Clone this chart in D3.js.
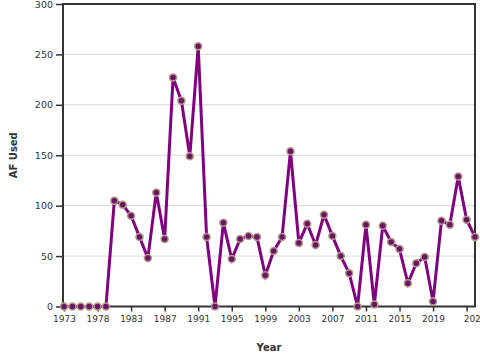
<!DOCTYPE html>
<html>
<head>
<meta charset="utf-8">
<script src="https://cdn.jsdelivr.net/npm/d3@7"></script>
<style>
  html, body { margin: 0; padding: 0; background: #fff; overflow: hidden; }
  svg { display: block; }
  text { font-family: "DejaVu Sans", sans-serif; fill: #333; }
</style>
</head>
<body>
<svg id="chart" width="480" height="360"></svg>
<script>
const years = [1973,1974,1975,1976,1978,1979,1980,1981,1983,1984,1985,1986,1987,1988,1989,1990,
  1991,1992,1993,1994,1995,1996,1997,1998,1999,2000,2001,2002,2003,2004,2005,2006,
  2007,2008,2009,2010,2011,2012,2013,2014,2015,2016,2017,2018,2019,2020,2021,2022,2023,2024];
const afUsed = [0,0,0,0,0,0,105,101,90,69,48,113,67,227,204,149,
  258,69,0,83,47,67,70,69,31,55,69,154,63,82,61,91,
  70,50,33,0,81,2,80,64,57,23,43,49,5,85,81,129,86,69];
const yTicks = [0,50,100,150,200,250,300];

const svg = d3.select("#chart");
const mLeft = 63, mRight = 475, mTop = 4, mBottom = 306.5;

const x = d3.scalePoint().domain(years).range([mLeft + 1, mRight]);
const y = d3.scaleLinear().domain([0, 300]).range([mBottom, mTop]);

// gridlines
svg.append("g").selectAll("line").data(yTicks.filter(t => t > 0 && t < 300)).join("line")
  .attr("x1", mLeft).attr("x2", mRight)
  .attr("y1", d => y(d)).attr("y2", d => y(d))
  .attr("stroke", "#d9d9d9").attr("stroke-width", 1);

// frame
svg.append("rect").attr("x", mLeft).attr("y", mTop).attr("width", mRight - mLeft).attr("height", mBottom - mTop)
  .attr("fill", "none").attr("stroke", "#333").attr("stroke-width", 2);

// x axis
const tickYears = years.filter((d, i) => i % 4 === 0);
const xAxis = d3.axisBottom(x)
  .tickValues(tickYears)
  .tickSize(5).tickPadding(4).tickFormat(d => String(d));
const gx = svg.append("g").attr("transform", `translate(0,${mBottom})`).call(xAxis);
gx.select(".domain").remove();
gx.selectAll("line").attr("stroke", "#333").attr("stroke-width", 1.5);
gx.selectAll("text").attr("font-size", 9).attr("fill", "#333").style("font-family", "DejaVu Sans")
  .attr("dx", d => d === tickYears[tickYears.length - 1] ? 8 : 0);

// y axis
const yAxis = d3.axisLeft(y).tickValues(yTicks).tickSize(7).tickPadding(3);
const gy = svg.append("g").attr("transform", `translate(${mLeft},0)`).call(yAxis);
gy.select(".domain").remove();
gy.selectAll("line").attr("stroke", "#333").attr("stroke-width", 1.5);
gy.selectAll("text").attr("font-size", 9.5).attr("fill", "#333").style("font-family", "DejaVu Sans");

// line
const line = d3.line().x((d, i) => x(years[i])).y(d => y(d));
svg.append("path").datum(afUsed).attr("d", line)
  .attr("fill", "none").attr("stroke", "#800080").attr("stroke-width", 3)
  .attr("stroke-linejoin", "miter");

// points
svg.append("g").selectAll("circle").data(afUsed).join("circle")
  .attr("cx", (d, i) => x(years[i])).attr("cy", d => y(d)).attr("r", 3.5)
  .attr("fill", "#6b1466").attr("stroke", "#b09a86").attr("stroke-width", 1.5);

// axis titles
svg.append("text").attr("x", (mLeft + mRight) / 2).attr("y", 351)
  .attr("text-anchor", "middle").attr("font-size", 10).attr("font-weight", "bold").text("Year");
svg.append("text").attr("transform", `translate(17,${(mTop + mBottom) / 2}) rotate(-90)`)
  .attr("text-anchor", "middle").attr("font-size", 10).attr("font-weight", "bold").text("AF Used");
</script>
</body>
</html>
